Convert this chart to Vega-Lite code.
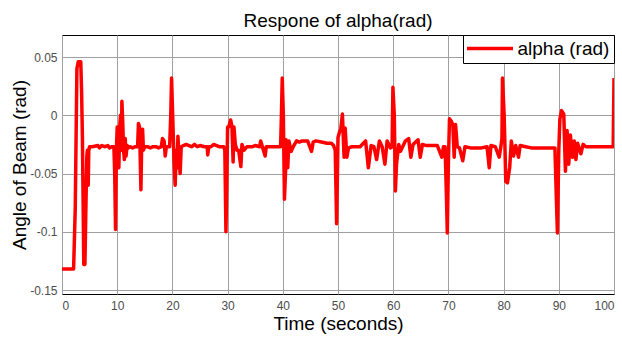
{
  "$schema": "https://vega.github.io/schema/vega-lite/v6.json",
  "width": 552,
  "height": 259,
  "autosize": {"type": "none"},
  "padding": {"left": 62, "top": 35, "right": 8, "bottom": 44},
  "background": "white",
  "title": {"text": "Respone of alpha(rad)", "fontSize": 19, "font": "Liberation Sans", "fontWeight": "normal", "color": "#000000", "offset": 4},
  "data": {"values": [
    {"t":0,"v":-0.132},{"t":2.1,"v":-0.132},{"t":2.4,"v":-0.08},{"t":2.7,"v":0.04},{"t":2.95,"v":0.046},{"t":3.4,"v":0.046},{"t":3.55,"v":0.02},{"t":3.7,"v":-0.02},{"t":3.95,"v":-0.128},{"t":4.15,"v":-0.128},{"t":4.4,"v":-0.06},{"t":4.5,"v":-0.035},{"t":4.6,"v":-0.03},{"t":4.75,"v":-0.06},{"t":4.85,"v":-0.03},{"t":5.0,"v":-0.027},
    {"t":5.5,"v":-0.027},{"t":6.5,"v":-0.026},{"t":6.8,"v":-0.028},{"t":7.2,"v":-0.026},{"t":7.8,"v":-0.027},{"t":8.3,"v":-0.026},{"t":8.6,"v":-0.028},{"t":9.0,"v":-0.027},{"t":9.4,"v":-0.027},
    {"t":9.55,"v":-0.05},{"t":9.7,"v":-0.098},{"t":9.85,"v":-0.03},{"t":10.0,"v":-0.01},{"t":10.15,"v":-0.02},{"t":10.3,"v":-0.045},{"t":10.45,"v":-0.01},{"t":10.6,"v":0.0},{"t":10.75,"v":-0.03},{"t":10.85,"v":0.012},{"t":11.0,"v":-0.005},{"t":11.15,"v":-0.03},{"t":11.3,"v":-0.038},{"t":11.45,"v":-0.02},{"t":11.6,"v":-0.035},{"t":11.8,"v":-0.026},{"t":12.0,"v":-0.028},{"t":12.3,"v":-0.027},{"t":12.8,"v":-0.028},{"t":13.3,"v":-0.027},{"t":13.7,"v":-0.027},
    {"t":13.85,"v":-0.007},{"t":14.05,"v":-0.01},{"t":14.3,"v":-0.064},{"t":14.45,"v":-0.02},{"t":14.6,"v":-0.012},{"t":14.75,"v":-0.03},{"t":15.0,"v":-0.027},{"t":15.5,"v":-0.027},{"t":16,"v":-0.028},{"t":16.5,"v":-0.027},{"t":17,"v":-0.027},{"t":17.5,"v":-0.028},{"t":18.0,"v":-0.027},{"t":18.2,"v":-0.02},{"t":18.5,"v":-0.022},{"t":18.7,"v":-0.035},{"t":18.9,"v":-0.027},{"t":19.5,"v":-0.027},
    {"t":19.7,"v":0.0},{"t":19.85,"v":0.032},{"t":20.05,"v":0.0},{"t":20.3,"v":-0.04},{"t":20.5,"v":-0.06},{"t":20.7,"v":-0.03},{"t":20.85,"v":-0.045},{"t":21.0,"v":-0.018},{"t":21.2,"v":-0.035},{"t":21.4,"v":-0.05},{"t":21.6,"v":-0.027},{"t":22.0,"v":-0.026},{"t":22.5,"v":-0.025},{"t":23,"v":-0.026},{"t":23.5,"v":-0.027},{"t":24,"v":-0.025},{"t":24.5,"v":-0.027},{"t":25,"v":-0.026},{"t":25.8,"v":-0.027},{"t":26.3,"v":-0.027},{"t":26.4,"v":-0.034},{"t":26.6,"v":-0.027},{"t":27,"v":-0.027},{"t":27.5,"v":-0.025},{"t":28,"v":-0.026},{"t":28.5,"v":-0.027},{"t":29.3,"v":-0.027},{"t":29.5,"v":-0.03},
    {"t":29.7,"v":-0.1},{"t":29.85,"v":-0.06},{"t":30.0,"v":-0.01},{"t":30.2,"v":-0.01},{"t":30.55,"v":-0.004},{"t":30.8,"v":-0.01},{"t":31.0,"v":-0.04},{"t":31.15,"v":-0.01},{"t":31.4,"v":-0.025},{"t":31.7,"v":-0.03},{"t":32.0,"v":-0.03},{"t":32.4,"v":-0.044},{"t":32.6,"v":-0.025},{"t":33,"v":-0.03},{"t":33.5,"v":-0.027},{"t":34,"v":-0.027},
    {"t":34.5,"v":-0.027},{"t":35,"v":-0.026},{"t":35.8,"v":-0.027},{"t":36.0,"v":-0.022},{"t":36.3,"v":-0.027},{"t":36.8,"v":-0.035},{"t":37.0,"v":-0.027},{"t":38,"v":-0.027},{"t":39,"v":-0.027},{"t":39.6,"v":-0.027},
    {"t":39.75,"v":0.0},{"t":39.9,"v":0.032},{"t":40.1,"v":0.0},{"t":40.3,"v":-0.072},{"t":40.5,"v":-0.048},{"t":40.6,"v":-0.021},{"t":40.9,"v":-0.045},{"t":41.1,"v":-0.022},{"t":41.5,"v":-0.031},{"t":42.0,"v":-0.026},{"t":42.5,"v":-0.022},{"t":43,"v":-0.023},{"t":43.5,"v":-0.022},{"t":44,"v":-0.022},{"t":44.5,"v":-0.022},{"t":45.2,"v":-0.031},{"t":45.5,"v":-0.023},{"t":46,"v":-0.022},{"t":47,"v":-0.023},{"t":48,"v":-0.024},{"t":48.8,"v":-0.024},{"t":49.2,"v":-0.026},
    {"t":49.5,"v":-0.03},{"t":49.75,"v":-0.093},{"t":50.0,"v":-0.019},{"t":50.3,"v":-0.014},{"t":50.5,"v":-0.012},{"t":50.8,"v":0.001},{"t":51.1,"v":-0.036},{"t":51.3,"v":-0.011},{"t":51.6,"v":-0.036},{"t":51.9,"v":-0.028},{"t":52.5,"v":-0.027},{"t":53,"v":-0.027},{"t":54,"v":-0.027},{"t":55.0,"v":-0.022},{"t":55.5,"v":-0.045},{"t":56,"v":-0.026},{"t":56.5,"v":-0.027},{"t":57.0,"v":-0.038},{"t":57.5,"v":-0.022},{"t":58.0,"v":-0.027},{"t":58.5,"v":-0.042},{"t":58.9,"v":-0.022},{"t":59.5,"v":-0.028},{"t":59.8,"v":-0.027},
    {"t":59.95,"v":0.024},{"t":60.2,"v":0.0},{"t":60.4,"v":-0.065},{"t":60.6,"v":-0.042},{"t":61.0,"v":-0.025},{"t":61.3,"v":-0.031},{"t":62.2,"v":-0.022},{"t":62.8,"v":-0.02},{"t":63.2,"v":-0.036},{"t":63.6,"v":-0.025},{"t":64.5,"v":-0.021},{"t":64.9,"v":-0.036},{"t":65.3,"v":-0.025},{"t":66,"v":-0.026},{"t":67,"v":-0.026},{"t":68,"v":-0.026},{"t":68.8,"v":-0.036},{"t":69.1,"v":-0.027},{"t":69.4,"v":-0.027},
    {"t":69.65,"v":-0.07},{"t":69.8,"v":-0.101},{"t":70.0,"v":-0.04},{"t":70.2,"v":-0.003},{"t":70.5,"v":-0.005},{"t":70.8,"v":-0.008},{"t":71.05,"v":-0.036},{"t":71.3,"v":-0.008},{"t":71.6,"v":-0.027},{"t":72.0,"v":-0.028},{"t":72.6,"v":-0.039},{"t":73.0,"v":-0.027},{"t":74,"v":-0.028},{"t":75,"v":-0.028},{"t":76,"v":-0.028},{"t":77,"v":-0.027},{"t":77.4,"v":-0.045},{"t":77.7,"v":-0.026},{"t":78.5,"v":-0.027},{"t":79.2,"v":-0.036},{"t":79.5,"v":-0.027},{"t":79.7,"v":-0.02},
    {"t":79.8,"v":0.032},{"t":80.1,"v":0.0},{"t":80.4,"v":-0.057},{"t":80.7,"v":-0.058},{"t":81.1,"v":-0.045},{"t":81.4,"v":-0.022},{"t":81.8,"v":-0.035},{"t":82.2,"v":-0.026},{"t":82.7,"v":-0.036},{"t":83.0,"v":-0.026},{"t":84,"v":-0.027},{"t":85,"v":-0.028},{"t":86,"v":-0.028},{"t":87,"v":-0.028},{"t":88,"v":-0.028},{"t":89.3,"v":-0.028},
    {"t":89.55,"v":-0.07},{"t":89.75,"v":-0.101},{"t":90.0,"v":-0.03},{"t":90.2,"v":-0.003},{"t":90.5,"v":0.004},{"t":90.9,"v":0.001},{"t":91.2,"v":-0.048},{"t":91.5,"v":-0.013},{"t":91.8,"v":-0.042},{"t":92.1,"v":-0.017},{"t":92.5,"v":-0.036},{"t":92.8,"v":-0.022},{"t":93.1,"v":-0.038},{"t":93.4,"v":-0.024},{"t":94.0,"v":-0.033},{"t":94.4,"v":-0.025},{"t":94.9,"v":-0.027},{"t":96,"v":-0.027},{"t":97,"v":-0.027},{"t":98,"v":-0.027},{"t":99.5,"v":-0.027},{"t":99.85,"v":-0.027},{"t":100,"v":0.032}
  ]},
  "mark": {"type": "line", "strokeWidth": 3.5, "strokeJoin": "round", "clip": true},
  "encoding": {
    "x": {"field": "t", "type": "quantitative", "title": "Time (seconds)",
      "scale": {"domain": [0, 100], "nice": false, "zero": false},
      "axis": {"values": [0,10,20,30,40,50,60,70,80,90,100], "labelExpr": "toString(datum.value)", "titlePadding": 3}},
    "y": {"field": "v", "type": "quantitative", "title": "Angle of Beam (rad)",
      "scale": {"domain": [-0.1534, 0.0689], "nice": false, "zero": false},
      "axis": {"values": [-0.15,-0.1,-0.05,0,0.05], "labelExpr": "toString(datum.value)", "titlePadding": 0}},
    "color": {"datum": "alpha (rad)", "type": "nominal", "scale": {"range": ["#ff0000"]}, "legend": {"title": null}}
  },
  "config": {
    "font": "Liberation Sans",
    "view": {"stroke": "#000000", "strokeWidth": 1},
    "axis": {
      "domain": false, "ticks": false, "grid": true, "gridColor": "#a0a0a0", "gridWidth": 1,
      "labelFont": "Liberation Sans", "labelFontSize": 12, "labelColor": "#4d4d4d", "labelPadding": 6,
      "titleFont": "Liberation Sans", "titleFontSize": 19, "titleFontWeight": "normal", "titleColor": "#000000"
    },
    "axisY": {"labelPadding": 5},
    "legend": {
      "orient": "top-right", "offset": 0, "padding": 4, "strokeColor": "#000000", "fillColor": "#ffffff", "cornerRadius": 0,
      "symbolType": "M-10,0H10", "symbolSize": 21.16, "symbolStrokeWidth": 3.5, "symbolOffset": 13.5, "labelOffset": 18,
      "labelFontSize": 19, "labelFont": "Liberation Sans", "labelColor": "#000000"
    }
  }
}
